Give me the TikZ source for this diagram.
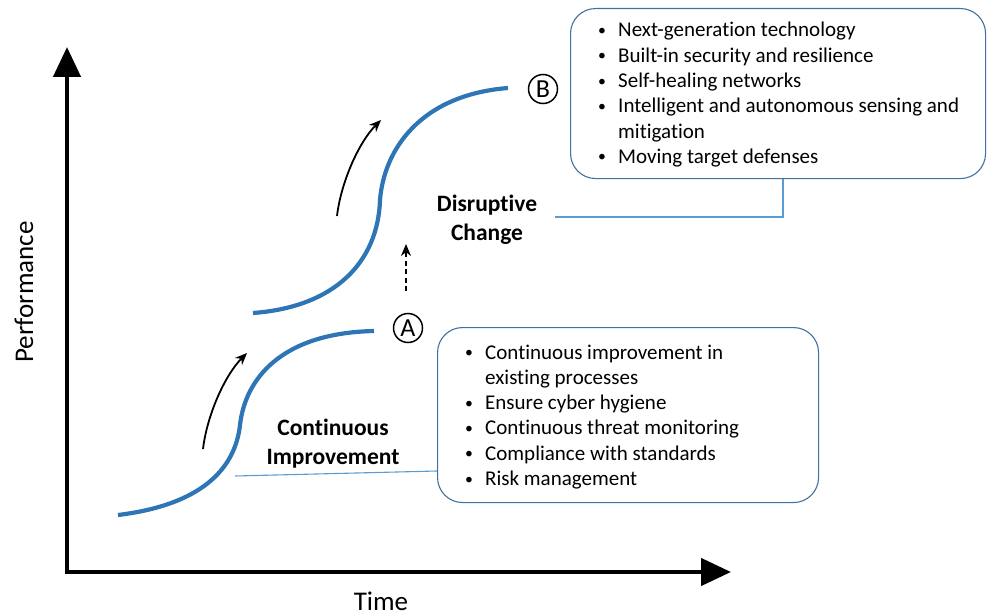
\documentclass[tikz,border=0pt]{standalone}
\usepackage{fontspec}
\setmainfont{Carlito}[Ligatures=NoCommon]
\usetikzlibrary{arrows.meta}
\definecolor{curveblue}{HTML}{2E75B6}
\definecolor{boxblue}{HTML}{41719C}
\definecolor{lineblue}{HTML}{5B9BD5}
\newcommand\mybul{\makebox[21pt][l]{\hspace{1pt}\raisebox{1.5pt}{\scalebox{0.75}{\textbullet}}}}
\newcommand\mynob{\makebox[21pt][l]{}}
\begin{document}
\begin{tikzpicture}[x=1pt,y=-1pt,
  axis/.style={line width=4.5pt, line join=miter, {Triangle[length=30pt,width=27pt]}-{Triangle[length=30pt,width=27pt]}},
  scurve/.style={draw=curveblue, line width=4.2pt},
  thinarrow/.style={line width=1.8pt, -{Stealth[length=12pt,width=10pt]}},
  infobox/.style={draw=boxblue, line width=1.1pt, rounded corners=25pt, inner sep=0pt},
  link/.style={draw=lineblue, line width=1.1pt},
  listtext/.style={inner sep=0pt, font=\fontsize{21}{25.3}\selectfont},
  boldlabel/.style={align=center, inner sep=0pt, font=\bfseries\fontsize{23.5}{29}\selectfont},
  axislabel/.style={inner sep=0pt, font=\fontsize{27}{32}\selectfont},
  circ/.style={draw, circle, line width=1.5pt, minimum size=29pt, inner sep=0pt, font=\fontsize{26}{30}\selectfont}]
\useasboundingbox (0,0) rectangle (987,615);

% axes
\coordinate (ytip) at (67,47);
\coordinate (xtip) at (731,572);
\draw[axis] (ytip) |- (xtip);
\node[axislabel, rotate=90] (perf) at (24,292) {Performance};
\node[axislabel] (time) at (381,601) {Time};

% S-curves
\coordinate (c1s) at (118,515);
\coordinate (c1m) at (240,425);
\coordinate (c1e) at (374,331);
\draw[scurve] (c1s) .. controls (200,505) and (235,470) .. (c1m)
  .. controls (245,380) and (280,333) .. (c1e);
\coordinate (c2s) at (253,313);
\coordinate (c2m) at (380,200);
\coordinate (c2e) at (508,88);
\draw[scurve] (c2s) .. controls (335,307) and (378,262) .. (c2m)
  .. controls (384,150) and (420,95) .. (c2e);

% black arrows
\coordinate (a1s) at (203,449);
\coordinate (a1e) at (247,353);
\draw[thinarrow] (a1s) .. controls (207,415) and (225,375) .. (a1e);
\coordinate (a2s) at (337,216);
\coordinate (a2e) at (381,120);
\draw[thinarrow] (a2s) .. controls (341,182) and (359,142) .. (a2e);
\coordinate (d1s) at (406,291);
\coordinate (d1e) at (406,244);
\draw[thinarrow, dash pattern=on 5pt off 3.5pt] (d1s) -- (d1e);

% circled markers
\node[circ] (A) at (408,328) {A};
\node[circ] (B) at (543,89) {B};

% labels
\node[boldlabel] (ci) at (333,444) {Continuous\\Improvement};
\node[boldlabel] (dc) at (487,220) {Disruptive\\Change};

% box B
\node[infobox, anchor=north west, minimum width=415pt, minimum height=170pt] (boxB) at (570,8) {};
\node[listtext, anchor=base west] (listB) at (597,37) {\begin{tabular}[t]{@{}l@{}}
\mybul Next-generation technology\\
\mybul Built-in security and resilience\\
\mybul Self-healing networks\\
\mybul Intelligent and autonomous sensing and\\
\mynob mitigation\\
\mybul Moving target defenses
\end{tabular}};
\coordinate (lBend) at (555,217);
\draw[link] (boxB.south -| 783,0) |- (lBend);

% box A
\node[infobox, anchor=north west, minimum width=381pt, minimum height=175pt] (boxA) at (437,327) {};
\node[listtext, anchor=base west] (listA) at (464,359) {\begin{tabular}[t]{@{}l@{}}
\mybul Continuous improvement in\\
\mynob existing processes\\
\mybul Ensure cyber hygiene\\
\mybul Continuous threat monitoring\\
\mybul Compliance with standards\\
\mybul Risk management
\end{tabular}};
\coordinate (lAend) at (235,476);
\draw[link] (boxA.west |- 0,471) -- (lAend);
\end{tikzpicture}
\end{document}
